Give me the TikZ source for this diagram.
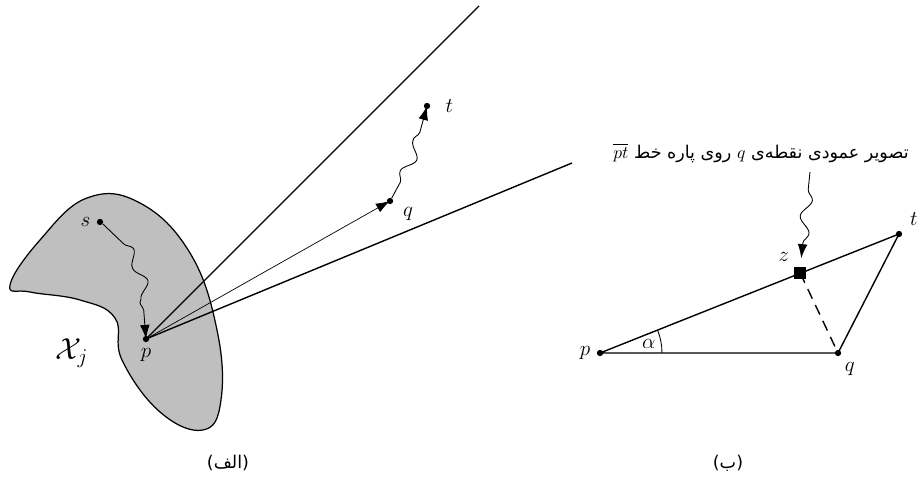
\documentclass[tikz,border=0pt]{standalone}
\usepackage{fontspec}
\newfontfamily\persianfont[Script=Arabic]{DejaVu Sans}
\TeXXeTstate=1
\usetikzlibrary{arrows.meta,decorations.pathmorphing,angles,quotes,calc}

\tikzset{
  dot/.style={circle, fill, inner sep=0pt, minimum size=3.6pt},
  sqdot/.style={rectangle, fill, inner sep=0pt, minimum size=6.8pt},
  wavy/.style={decorate, decoration={snake, amplitude=3pt, segment length=19pt, pre length=10pt, post length=8pt}},
  tip/.style={-{Latex[length=8pt,width=5.5pt]}},
  every label/.style={font=\large},
}

\begin{document}
\begin{tikzpicture}[x=0.02cm, y=0.02cm]
    \useasboundingbox (0,0) rectangle (917,477);

    % --- (الف): the region X_j and the rays from p ---
    \draw[line width=0.7pt, fill=black!25] plot[smooth cycle, tension=0.7] coordinates
        {(10,192) (40,237) (87,279) (140,274) (190,224) (217,147) (221,77)
         (203,47) (160,65) (122,117) (115,159) (80,177) (30,185)};
    \node (xj) at (72,124) {\LARGE$\mathcal{X}_j$};

    % points
    \node[dot, label=left:$s$] (sa) at (100,255) {};
    \node[dot, label=below:$p$] (pa) at (146,138) {};
    \node[dot, label={[label distance=2pt]-5:$q$}] (qa) at (390,276) {};
    \node[dot, label={[label distance=5pt]right:$t$}] (ta) at (427,371) {};
    \coordinate (e1) at (479,471);
    \coordinate (e3) at (572,314);

    % rays
    \draw[line width=0.8pt] (pa.center) -- (e1);
    \draw[line width=0.8pt] (pa.center) -- (e3);
    \draw[tip, line width=0.4pt] (pa.center) -- (qa.center);

    % paths
    \draw[wavy, tip, line width=0.5pt, decoration={pre length=16pt}] (sa) to[out=-35, in=95] (pa.center);
    \draw[wavy, tip, line width=0.5pt] (qa) to[out=60, in=-105] (ta.center);

    % --- (ب): projection of q on pt ---
    \node[dot, label=left:$p$] (pb) at (600,124) {};
    \node[dot, label={[label distance=0pt]-80:$q$}] (qb) at (838,124) {};
    \node[dot, label={[label distance=1pt]20:$t$}] (tb) at (899,243) {};
    \node[sqdot, label={[label distance=-1pt]135:$z$}] (zb) at ($(pb)!0.67!(tb)$) {};

    \draw[line width=0.8pt] (pb.center) -- (tb.center) -- (qb.center) -- (pb.center);
    \draw[line width=0.8pt, dashed, dash pattern=on 6pt off 4pt] (zb.center) -- (qb.center);
    \pic[draw, line width=0.5pt, angle radius=1.24cm, angle eccentricity=0.8, "\large$\alpha$"] {angle=qb--pb--tb};

    \node (note) at (761,324) {\persianfont\beginR تصویر عمودی نقطه^^^^200cی \beginL$q$\endL{} روی پاره خط \beginL$\overline{pt}$\endL\endR};
    \coordinate (zs) at (810,305);
    \draw[wavy, tip, line width=0.5pt, shorten >=5pt] (zs) -- (zb.north);

    % captions
    \node (capa) at (228,14) {\persianfont\beginR(الف)\endR};
    \node (capb) at (728,14) {\persianfont\beginR(ب)\endR};
\end{tikzpicture}
\end{document}
